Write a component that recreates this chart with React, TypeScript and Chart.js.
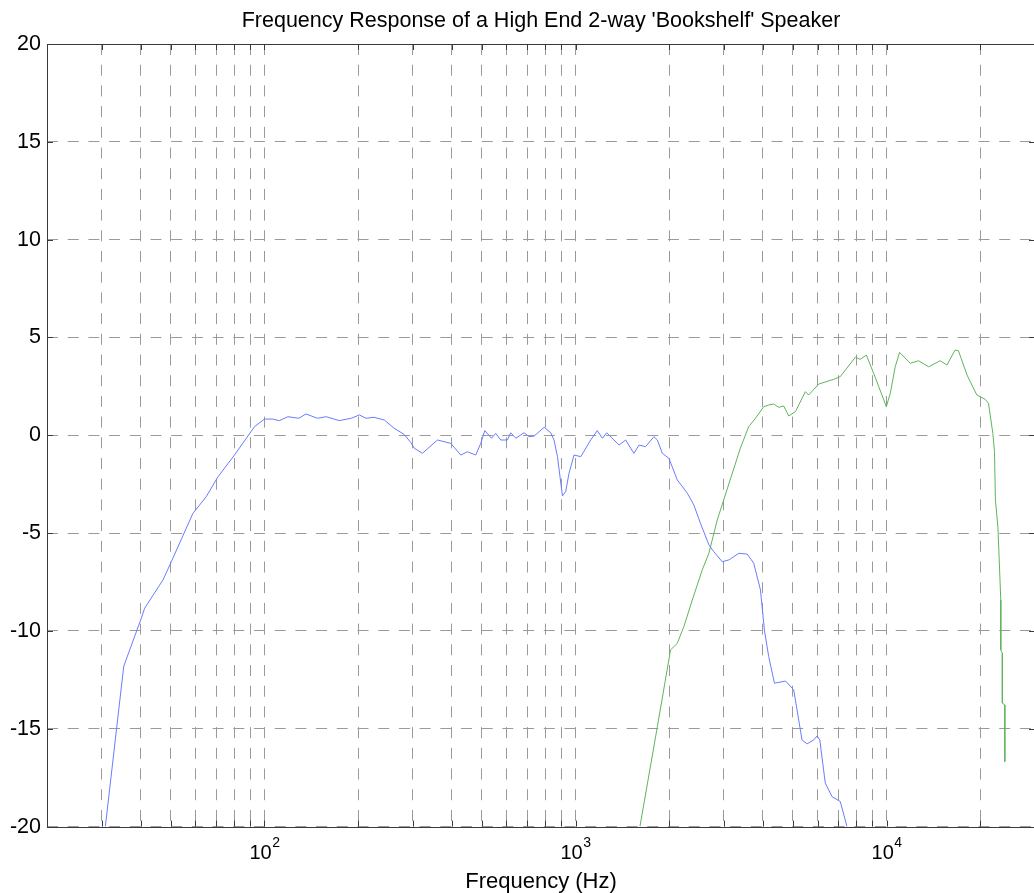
import React, { useEffect, useRef } from 'react';
import { Chart, registerables } from 'chart.js';

Chart.register(...registerables);

const TITLE = "Frequency Response of a High End 2-way 'Bookshelf' Speaker";
const X_LABEL = 'Frequency (Hz)';
const FONT = '"Liberation Sans", Arial, Helvetica, sans-serif';

const X_MIN = 20;
const X_MAX = 30000;
const Y_MIN = -20;
const Y_MAX = 20;
const Y_STEP = 5;
const Y_TICKS = [-20, -15, -10, -5, 0, 5, 10, 15, 20];
const X_GRID = [
  30, 40, 50, 60, 70, 80, 90,
  100, 200, 300, 400, 500, 600, 700, 800, 900,
  1000, 2000, 3000, 4000, 5000, 6000, 7000, 8000, 9000,
  10000, 20000,
];
const X_MAJOR = [100, 1000, 10000];
const X_MAJOR_EXP = ['2', '3', '4'];

// Woofer (blue)
const wooferFreq = [
  30.8, 35.3, 40.2, 41.2, 47.2, 50.2, 58.9, 65, 70.9, 80.1, 92.9,
  100, 106, 111.7, 119, 129, 136, 148, 158, 174, 190, 202, 212, 225, 243, 261, 281, 296,
  303, 322, 360, 397, 428, 449, 478, 496, 511, 537, 554, 575, 604, 619, 643, 683, 709, 736,
  793, 832, 853, 875, 908, 930, 953, 989, 1040, 1119, 1175, 1220, 1260, 1380, 1449, 1541,
  1600, 1680, 1787, 1833, 1902, 1997, 2124, 2288, 2401, 2522, 2684, 2783, 2962, 3111, 3350,
  3564, 3741, 3931, 4048, 4179, 4361, 4730, 5028, 5348, 5553, 5831, 5978, 6100, 6353, 6678,
  7099, 7460,
];
const wooferDb = [
  -20, -11.8, -9.35, -8.84, -7.39, -6.46, -3.99, -3.14, -2.12, -1.01, 0.44,
  0.83, 0.83, 0.75, 0.95, 0.87, 1.09, 0.87, 0.95, 0.75, 0.87, 1.04, 0.87, 0.92, 0.78, 0.36, 0.05, -0.38,
  -0.66, -0.92, -0.24, -0.41, -1.01, -0.84, -1.01, -0.41, 0.24, -0.15, 0.1, -0.24, -0.24, 0.13, -0.15, 0.13, -0.07, -0.04,
  0.41, 0.13, -0.24, -1.09, -3.1, -2.88, -1.94, -1.01, -1.09, -0.24, 0.24, -0.15, 0.13, -0.5, -0.24, -0.92,
  -0.5, -0.58, -0.07, -0.24, -0.92, -1.18, -2.28, -2.96, -3.56, -4.5, -5.6, -5.95, -6.46, -6.37, -6.03,
  -6.07, -6.54, -7.9, -9.95, -11.31, -12.67, -12.56, -13.01, -15.57, -15.77, -15.57, -15.37, -15.57, -17.78, -18.47,
  -18.72, -20,
];

// Tweeter (green)
const tweeterFreq = [
  1611, 1833, 2021, 2124, 2230, 2373, 2555, 2684, 2855, 2924, 3388, 3603, 3789, 4027, 4179,
  4335, 4500, 4668, 4846, 5093, 5482, 5617, 6053, 6761, 7099, 7937, 8222, 8610, 9085, 9663,
  9980, 10280, 10660, 11010, 11920, 12670, 13650, 14870, 15630, 16610, 17020, 18140, 19500,
  20740, 21260, 21960, 22230, 22380, 22800, 23290, 23290, 23560, 23560, 23990, 23990,
];
const tweeterDb = [
  -20, -14.89, -10.97, -10.63, -9.78, -8.42, -6.88, -6.03, -4.33, -3.82, -0.66, 0.44, 0.87, 1.46, 1.55,
  1.6, 1.43, 1.5, 0.99, 1.21, 2.23, 2.06, 2.62, 2.86, 3.0, 3.99, 3.88, 4.1, 3.17, 2.06,
  1.46, 2.15, 3.5, 4.24, 3.68, 3.81, 3.5, 3.81, 3.59, 4.36, 4.32, 3.08, 2.06,
  1.84, 1.64, 0.1, -0.84, -3.3, -4.7, -8.42, -10.97, -11.14, -13.69, -13.78, -16.68,
];

const framePlugin = {
  id: 'matlabFrame',
  afterDraw(chart: any) {
    const { ctx, chartArea: a, scales } = chart;
    const xs = scales.x;
    const ys = scales.y;
    ctx.save();
    ctx.strokeStyle = '#3a3a3a';
    ctx.lineWidth = 1;
    ctx.setLineDash([]);
    ctx.beginPath();
    const tl = 6;
    X_GRID.forEach((v) => {
      const px = Math.round(xs.getPixelForValue(v)) + 0.5;
      ctx.moveTo(px, a.bottom);
      ctx.lineTo(px, a.bottom - tl);
      ctx.moveTo(px, a.top);
      ctx.lineTo(px, a.top + tl);
    });
    Y_TICKS.forEach((v) => {
      const py = Math.round(ys.getPixelForValue(v)) + 0.5;
      ctx.moveTo(a.left, py);
      ctx.lineTo(a.left + tl, py);
      ctx.moveTo(a.right, py);
      ctx.lineTo(a.right - tl, py);
    });
    ctx.stroke();
    ctx.strokeRect(
      Math.round(a.left) + 0.5,
      Math.round(a.top) + 0.5,
      Math.round(a.right - a.left),
      Math.round(a.bottom - a.top)
    );
    ctx.fillStyle = '#000';
    // title, centred over the axes
    ctx.textBaseline = 'alphabetic';
    ctx.textAlign = 'center';
    ctx.font = `21.5px ${FONT}`;
    ctx.fillText(TITLE, (a.left + a.right) / 2, a.top - 17.5);
    // decade labels with superscript exponents
    ctx.textAlign = 'left';
    X_MAJOR.forEach((v, i) => {
      const px = xs.getPixelForValue(v);
      ctx.font = `20px ${FONT}`;
      const w1 = ctx.measureText('10').width;
      ctx.font = `14px ${FONT}`;
      const w2 = ctx.measureText(X_MAJOR_EXP[i]).width;
      const start = px - (w1 + w2) / 2;
      ctx.font = `20px ${FONT}`;
      ctx.fillText('10', start, a.bottom + 32.5);
      ctx.font = `14px ${FONT}`;
      ctx.fillText(X_MAJOR_EXP[i], start + w1 + 0.5, a.bottom + 20);
    });
    ctx.restore();
  },
};

export default function App() {
  const canvasRef = useRef<HTMLCanvasElement | null>(null);

  useEffect(() => {
    document.body.style.margin = '0';
    const canvas = canvasRef.current;
    if (!canvas) return;
    const woofer = wooferFreq.map((f, i) => ({ x: f, y: wooferDb[i] }));
    const tweeter = tweeterFreq.map((f, i) => ({ x: f, y: tweeterDb[i] }));
    const chart = new Chart(canvas, {
      type: 'line',
      data: {
        datasets: [
          {
            label: 'Woofer',
            data: woofer,
            borderColor: 'rgb(105,125,255)',
            borderWidth: 1,
            pointRadius: 0,
            tension: 0,
            fill: false,
          },
          {
            label: 'Tweeter',
            data: tweeter,
            borderColor: 'rgb(95,180,95)',
            borderWidth: 1,
            pointRadius: 0,
            tension: 0,
            fill: false,
          },
        ],
      },
      options: {
        animation: false,
        responsive: false,
        devicePixelRatio: 1,
        layout: { padding: { left: 0, right: 5, top: 44, bottom: 0 } },
        plugins: {
          legend: { display: false },
          tooltip: { enabled: false },
          title: { display: false },
        },
        scales: {
          x: {
            type: 'logarithmic',
            min: X_MIN,
            max: X_MAX,
            afterBuildTicks: (scale: any) => {
              scale.ticks = X_GRID.map((v) => ({ value: v }));
            },
            afterFit: (scale: any) => {
              scale.height = 66.4;
            },
            ticks: { display: false },
            grid: { color: '#9a9a9a', lineWidth: 1, drawTicks: false },
            border: { display: false, dash: [11, 9.7] },
            title: {
              display: true,
              text: X_LABEL,
              color: '#000',
              font: { family: FONT, size: 22, weight: 'normal', lineHeight: 1 },
              padding: { top: 0, bottom: 0 },
            },
          },
          y: {
            type: 'linear',
            min: Y_MIN,
            max: Y_MAX,
            afterFit: (scale: any) => {
              scale.width = 47;
            },
            ticks: {
              stepSize: Y_STEP,
              color: '#000',
              padding: 6,
              font: { family: FONT, size: 21.5 },
            },
            grid: { color: '#9a9a9a', lineWidth: 1, drawTicks: false },
            border: { display: false, dash: [11, 9.7] },
          },
        },
      },
      plugins: [framePlugin],
    });
    return () => chart.destroy();
  }, []);

  return (
    <div style={{ width: 1034, height: 893, overflow: 'hidden', position: 'relative' }}>
      <canvas
        ref={canvasRef}
        width={1040}
        height={893}
        style={{ width: 1040, height: 893, display: 'block' }}
      />
    </div>
  );
}
